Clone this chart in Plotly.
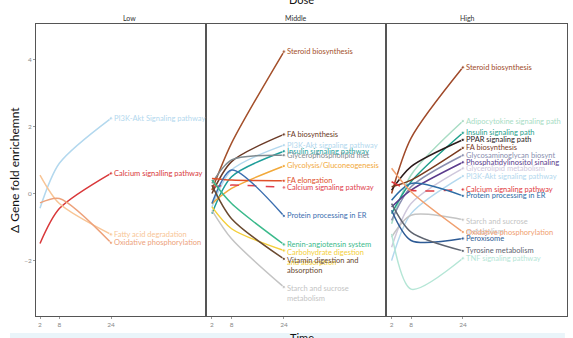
import plotly.graph_objects as go

times = [2, 8, 24]
x_ticks = [2, 8, 24]
y_ticks = [-2, 0, 2, 4]
panels = ["Low", "Middle", "High"]

# ---- Low dose ----
low_names = ["PI3K-Akt Signaling pathway", "Calcium signalling pathway",
             "Fatty acid degradation", "Oxidative phosphorylation"]
low_values = [[-0.44, 0.90, 2.24],
              [-1.49, -0.45, 0.60],
              [0.55, -0.30, -1.22],
              [-0.28, -0.15, -1.47]]
low_colors = ["#b3d8ee", "#d9383a", "#f8c596", "#eda27b"]

# ---- Middle dose ----
mid_names = ["Steroid biosynthesis", "FA biosynthesis", "PI3K-Akt signaling pathway",
             "Insulin signaling pathway", "Glycerophospholipid met",
             "Glycolysis/Gluconeogenesis", "FA elongation", "Calcium signaling pathway",
             "Protein processing in ER", "Renin-angiotensin system",
             "Carbohydrate digestion<br>and absorption", "Vitamin digestion and<br>absorption",
             "Starch and sucrose<br>metabolism"]
mid_values = [[0.10, 1.50, 4.23],
              [0.00, 0.95, 1.76],
              [-0.40, 0.70, 1.44],
              [-0.60, 0.50, 1.26],
              [0.30, 1.00, 1.14],
              [-0.30, 0.15, 0.82],
              [0.45, 0.40, 0.38],
              [0.20, 0.25, 0.18],
              [-0.30, 0.70, -0.67],
              [0.40, -0.30, -1.52],
              [-0.40, -1.05, -1.70],
              [0.25, -0.75, -1.95],
              [-0.50, -1.35, -2.79]]
mid_colors = ["#a4502b", "#6b3a26", "#b3d8ee", "#1f9e9a", "#7f8a8f", "#f2a93b",
              "#e0502a", "#e0404c", "#3c6fb0", "#3cba8c", "#f4cf3a", "#6a4a30", "#c4c4c4"]
mid_dash = [False] * 7 + [True] + [False] * 5

# ---- High dose ----
high_names = ["Steroid biosynthesis", "Adipocytokine signaling path", "Insulin signaling path",
              "PPAR signaling path", "FA biosynthesis", "Glycosaminoglycan biosynt",
              "Phosphatidylinositol sinaling", "Glycerolipid metabolism",
              "PI3K-Akt signaling pathway", "Calcium signaling pathway",
              "Protein processing in ER", "Starch and sucrose<br>metabolism",
              "Oxidative phosphorylation", "Peroxisome", "Tyrosine metabolism",
              "TNF signaling pathway"]
high_values = [[0.00, 1.65, 3.76],
               [-0.90, 0.55, 2.16],
               [-0.60, 0.35, 1.81],
               [0.10, 0.80, 1.60],
               [0.20, 0.40, 1.36],
               [-0.80, 0.20, 1.14],
               [-0.40, 0.10, 0.93],
               [-1.60, -0.30, 0.75],
               [-2.00, -0.60, 0.52],
               [0.35, 0.10, 0.12],
               [-0.20, 0.30, -0.07],
               [-1.30, -0.65, -0.78],
               [0.75, 0.05, -1.15],
               [-0.50, -1.40, -1.34],
               [-0.30, -1.15, -1.71],
               [-1.20, -2.85, -1.93]]
high_colors = ["#a04a2a", "#a8dcc4", "#1fa08c", "#2b1b1b", "#7a3b1f", "#8a8fb0",
               "#5b3b8c", "#cfc8dc", "#b3d8ee", "#e03a40", "#2d6ca5", "#c4c4c4",
               "#f0a070", "#2e5b95", "#5e6470", "#b5e6d6"]
high_dash = [False] * 9 + [True] + [False] * 6

FONT = "Lato"
fig = go.Figure()

panel_data = [
    (low_names, low_values, low_colors, [False] * 4, "x", "y"),
    (mid_names, mid_values, mid_colors, mid_dash, "x2", "y2"),
    (high_names, high_values, high_colors, high_dash, "x3", "y3"),
]

annotations = []
for names, values, colors, dashes, xa, ya in panel_data:
    for name, vals, col, dsh in zip(names, values, colors, dashes):
        fig.add_trace(go.Scatter(
            x=times, y=vals, mode="lines+markers", xaxis=xa, yaxis=ya,
            line=dict(color=col, width=1.5, shape="spline", smoothing=0.8,
                      dash="dash" if dsh else "solid"),
            marker=dict(size=[0, 0, 3.5], color=col),
            showlegend=False, hoverinfo="skip"))
        two = "<br>" in name
        annotations.append(dict(
            x=times[-1], y=vals[-1], xref=xa, yref=ya, text=name, showarrow=False,
            xanchor="left", yanchor="top" if two else "middle",
            yshift=5 if two else 0, xshift=1, align="left",
            font=dict(family=FONT, size=7.5, color=col)))

domains = [[0, 0.3196], [0.3206, 0.6584], [0.6595, 1.0]]
xranges = [[0.76, 53.35], [0.26, 55.07], [0.33, 56.1]]
yrange = [-3.65, 5.05]

axis_common = dict(showline=True, mirror=True, linecolor="#555555", linewidth=1,
                   showgrid=False, zeroline=False, ticks="outside", ticklen=2,
                   tickcolor="#999999",
                   tickfont=dict(family=FONT, size=6.5, color="#888888"))

layout = dict(
    width=573, height=338,
    margin=dict(l=36, r=6, t=24, b=22, autoexpand=False),
    paper_bgcolor="white", plot_bgcolor="white",
    showlegend=False,
)
for i in range(3):
    sfx = "" if i == 0 else str(i + 1)
    layout["xaxis" + sfx] = dict(axis_common, domain=domains[i], range=xranges[i],
                                 tickvals=x_ticks, anchor="y" + sfx)
    yax = dict(axis_common, range=yrange, tickvals=y_ticks, anchor="x" + sfx)
    if i > 0:
        yax.update(showticklabels=False, ticks="", matches="y")
    layout["yaxis" + sfx] = yax
    annotations.append(dict(
        x=(domains[i][0] + domains[i][1]) / 2, y=1, xref="paper", yref="paper",
        text=panels[i], showarrow=False, yanchor="bottom", yshift=0,
        font=dict(family=FONT, size=7, color="#333333")))

annotations.append(dict(x=0.5, y=1, xref="paper", yref="paper", text="Dose",
                        showarrow=False, yanchor="bottom", yshift=16,
                        font=dict(family=FONT, size=11, color="#111111")))
annotations.append(dict(x=0.5, y=0, xref="paper", yref="paper", text="Time",
                        showarrow=False, yanchor="top", yshift=-13,
                        font=dict(family=FONT, size=11, color="#111111")))
annotations.append(dict(x=0, y=0.5, xref="paper", yref="paper",
                        text="Δ Gene fold enrichemnt", textangle=-90,
                        showarrow=False, xanchor="center", xshift=-22,
                        font=dict(family=FONT, size=12, color="#111111")))

layout["annotations"] = annotations
layout["shapes"] = [dict(type="rect", xref="paper", yref="paper",
                         x0=-0.049, x1=0.996, y0=-0.075, y1=-0.058,
                         fillcolor="#eaf5fa", line=dict(width=0), layer="below")]
fig.update_layout(**layout)
fig.write_html("out.html", config={"displayModeBar": False},
               post_script="document.body.style.margin='0px';document.body.style.overflow='hidden';")
